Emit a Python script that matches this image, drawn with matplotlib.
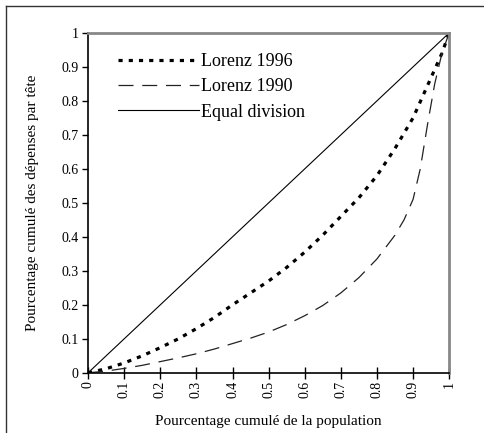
import matplotlib
matplotlib.use('Agg')
import matplotlib.pyplot as plt
from matplotlib.lines import Line2D

plt.rcParams['font.family'] = ['Liberation Serif', 'DejaVu Serif']

# population share
x96 = [0, 0.05, 0.1, 0.15, 0.2, 0.25, 0.3, 0.35, 0.4, 0.45, 0.5, 0.55, 0.6,
       0.65, 0.7, 0.75, 0.8, 0.85, 0.9, 0.94, 0.98, 1.0]
y96 = [0, 0.012, 0.029, 0.05, 0.074, 0.1, 0.13, 0.163, 0.2, 0.235, 0.27, 0.31,
       0.355, 0.405, 0.46, 0.515, 0.58, 0.66, 0.75, 0.845, 0.94, 1.0]

x90 = [0, 0.05, 0.1, 0.15, 0.2, 0.25, 0.3, 0.35, 0.4, 0.45, 0.5, 0.55, 0.6,
       0.65, 0.7, 0.75, 0.8, 0.85, 0.875, 0.9, 0.92, 0.94, 0.96, 0.98, 1.0]
y90 = [0, 0.005, 0.013, 0.022, 0.033, 0.044, 0.056, 0.07, 0.086, 0.102, 0.12,
       0.142, 0.168, 0.198, 0.235, 0.28, 0.335, 0.405, 0.45, 0.51, 0.6, 0.73,
       0.85, 0.94, 1.0]

x_eq = [0, 1]
y_eq = [0, 1]

ticks = [0, 0.1, 0.2, 0.3, 0.4, 0.5, 0.6, 0.7, 0.8, 0.9, 1]
tick_labels = ['0', '0.1', '0.2', '0.3', '0.4', '0.5', '0.6', '0.7', '0.8', '0.9', '1']

fig = plt.figure(figsize=(4.84, 4.33), dpi=100)
ax = fig.add_axes([0.182, 0.139, 0.746, 0.785])

ax.plot(x96, y96, color='black', linewidth=2.3, linestyle=(0, (1.3, 1.9)),
        label='Lorenz 1996')
ax.plot(x90, y90, color='#222222', linewidth=0.9, linestyle=(0, (12, 7)),
        label='Lorenz 1990')
ax.plot(x_eq, y_eq, color='black', linewidth=0.8, label='Equal division')

ax.set_xlim(0, 1)
ax.set_ylim(0, 1)
ax.set_xticks(ticks)
ax.set_xticklabels(tick_labels, rotation=90, fontsize=10)
ax.set_yticks(ticks)
ax.set_yticklabels(tick_labels, fontsize=10)
ax.tick_params(axis='x', direction='inout', length=8, width=1, pad=2)
ax.tick_params(axis='y', direction='out', length=4, width=1, pad=3)

for s in ['top', 'right']:
    ax.spines[s].set_color('#888888')
    ax.spines[s].set_linewidth(2)
for s in ['left', 'bottom']:
    ax.spines[s].set_color('black')
    ax.spines[s].set_linewidth(1.2)

ax.set_xlabel('Pourcentage cumulé de la population', fontsize=11, labelpad=12)
ax.set_ylabel('Pourcentage cumulé des dépenses par tête', fontsize=11, labelpad=16)

ax.legend(loc='upper left', bbox_to_anchor=(0.083, 0.94), frameon=False,
          fontsize=13, handlelength=4.5, handletextpad=0.1, labelspacing=0.45,
          borderaxespad=0, borderpad=0)

# outer frame (left and top only)
fig.add_artist(Line2D([0.012, 0.012], [0, 0.986], transform=fig.transFigure,
                      color='#333333', linewidth=1))
fig.add_artist(Line2D([0.012, 1], [0.986, 0.986], transform=fig.transFigure,
                      color='#333333', linewidth=1))

fig.savefig('out.png', dpi=100)
